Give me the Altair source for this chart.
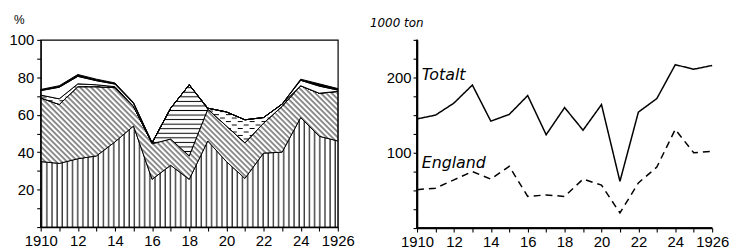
import altair as alt
import pandas as pd
from altair.utils import html as alt_html

# ---------------- data ----------------
years = list(range(1910, 1927))

# left panel: shares in %, stacked bottom -> top
share_vertical   = [35, 34, 36.5, 38, 45.5, 54, 25.5, 33, 25.5, 46, 35, 26, 39.5, 40, 58.5, 48.5, 46]
share_diagonal   = [34, 31.5, 38.5, 37, 29, 10.5, 19, 14, 12.5, 17, 19, 19, 16, 24.5, 17, 23, 26.5]
share_horizontal = [0, 0, 0, 0, 0, 0, 0.5, 16.5, 38, 0, 0, 0, 0, 0, 0, 0, 0]
share_dashed     = [1.5, 3, 1.5, 1, 0.5, 0, 0, 0, 0, 0.5, 7.5, 12.3, 3, 1.2, 0, 0, 0]
share_white      = [2.4, 6.2, 4, 2.2, 1.4, 1.6, 0, 0, 0, 0, 0, 0, 0, 0, 2.9, 3.8, 0.7]
share_black      = [0.6, 0.8, 1, 0.8, 0.6, 0.4, 0, 0, 0, 0, 0, 0, 0, 0, 0.6, 1.2, 0.8]

# right panel: 1000 ton
totalt  = [145, 150, 166, 190, 142, 151, 176, 124, 160, 130, 164, 62, 154, 172, 217, 211, 216]
england = [51, 53, 64, 75, 65, 82, 42, 44, 42, 65, 57, 20, 60, 81, 131, 100, 102]

series_names = ["Totalt", "England"]
label_years  = [1910.25, 1910.25]
label_values = [203, 86]

x_tick_labels = {1910: "1910", 1912: "12", 1914: "14", 1916: "16", 1918: "18",
                 1920: "20", 1922: "22", 1924: "24", 1926: "1926"}
left_y_ticks = list(range(0, 101, 10))
left_y_labels = {20: "20", 40: "40", 60: "60", 80: "80", 100: "100"}
right_y_ticks = list(range(0, 251, 25))
right_y_labels = {100: "100", 200: "200"}
right_x_range = [1910, 1926]
right_y_range = [0, 250]

layer_names = ["vertical", "diagonal", "horizontal", "dashed", "white", "black"]
layer_values = [share_vertical, share_diagonal, share_horizontal, share_dashed, share_white, share_black]
layer_fills = ["url(#p-vert)", "url(#p-diag)", "url(#p-horz)", "url(#p-dash)", "white", "black"]

# ---------------- helpers ----------------
def label_expr(mapping):
    expr = "''"
    for k in sorted(mapping, reverse=True):
        expr = f"datum.value == {k} ? '{mapping[k]}' : ({expr})"
    return expr

FONT = "Liberation Sans"
INK = "#000000"
axis_common = dict(
    domain=True, ticks=True, domainColor=INK, tickColor=INK, tickWidth=1.1,
    domainOpacity=1, tickOpacity=1, zindex=1,
    labelColor="black", labelFont=FONT, labelFontSize=15, tickSize=4, grid=False,
    labelOverlap=False,
)

left_rows = []
for order, (name, vals) in enumerate(zip(layer_names, layer_values)):
    for y, v in zip(years, vals):
        left_rows.append({"year": y, "share": v, "layer": name, "k": order})
left_df = pd.DataFrame(left_rows)

right_rows = []
for name, vals in zip(series_names, [totalt, england]):
    for y, v in zip(years, vals):
        right_rows.append({"year": y, "value": v, "series": name})
right_df = pd.DataFrame(right_rows)
label_df = pd.DataFrame({"series": series_names, "year": label_years, "value": label_values})

x_scale = alt.Scale(domain=[1910, 1926], nice=False, zero=False)
right_y_scale = alt.Scale(domain=right_y_range, nice=False)


def x_axis(width):
    return alt.Axis(values=years, labelExpr=label_expr(x_tick_labels), title=None,
                    labelPadding=3, labelFlush=False, domainWidth=width, **axis_common)


def right_y_axis():
    return alt.Axis(values=right_y_ticks, labelExpr=label_expr(right_y_labels),
                    title="1000  ton", titleAngle=0, titleX=-48, titleY=-17, titleAlign="left",
                    titleBaseline="middle", titleFont="DejaVu Sans", titleFontSize=12,
                    titleFontStyle="italic", titleFontWeight="normal", titleColor="black",
                    labelPadding=2, domainWidth=1.6, **axis_common)


left = alt.Chart(left_df).mark_area(stroke="black", strokeWidth=1, opacity=1, interpolate="linear").encode(
    x=alt.X("year:Q", scale=x_scale, axis=x_axis(1.2)),
    y=alt.Y("share:Q", stack="zero", scale=alt.Scale(domain=[0, 100], nice=False),
            axis=alt.Axis(values=left_y_ticks, labelExpr=label_expr(left_y_labels),
                          title="%", titleAngle=0, titleX=-22, titleY=-21, titleAlign="center",
                          titleBaseline="middle", titleFont=FONT, titleFontSize=12,
                          titleFontWeight="normal", titleColor="black",
                          labelPadding=3, domainWidth=1.2, **axis_common)),
    fill=alt.Fill("layer:N", scale=alt.Scale(domain=layer_names, range=layer_fills), legend=None),
    order=alt.Order("k:Q", sort="ascending"),
).properties(width=300, height=189, view=alt.ViewBackground(stroke="black", strokeWidth=1.2))

lines = alt.Chart(right_df).mark_line(color="black", strokeWidth=1.5).encode(
    x=alt.X("year:Q", scale=x_scale, axis=x_axis(1.6)),
    y=alt.Y("value:Q", scale=right_y_scale, axis=right_y_axis()),
    strokeDash=alt.StrokeDash("series:N", scale=alt.Scale(domain=series_names, range=[[1, 0], [7, 5]]),
                              legend=None),
)

labels = alt.Chart(label_df).mark_text(font="DejaVu Sans", fontStyle="italic", fontSize=16,
                                       align="left", baseline="middle", color="black").encode(
    x=alt.X("year:Q", scale=x_scale, axis=x_axis(1.6)),
    y=alt.Y("value:Q", scale=right_y_scale, axis=right_y_axis()),
    text="series:N",
)

# axis lines of the right panel drawn through the same scales (L-shaped frame)
y_axis_line = alt.Chart(label_df).mark_rule(color="black", strokeWidth=1.6).encode(
    x=alt.datum(right_x_range[0], scale=x_scale, axis=x_axis(1.6)),
    y=alt.datum(right_y_range[0], scale=right_y_scale, axis=right_y_axis()),
    y2=alt.datum(right_y_range[1]),
)
x_axis_line = alt.Chart(label_df).mark_rule(color="black", strokeWidth=1.6).encode(
    x=alt.datum(right_x_range[0], scale=x_scale, axis=x_axis(1.6)),
    x2=alt.datum(right_x_range[1]),
    y=alt.datum(right_y_range[0], scale=right_y_scale, axis=right_y_axis()),
)

right = alt.layer(lines, labels, y_axis_line, x_axis_line).properties(width=298, height=190)

chart = alt.hconcat(left, right, spacing=80, bounds="flush").properties(
    padding={"left": 0, "top": 3, "right": 0, "bottom": 0}
).configure_view(stroke=None)

PATTERN_DEFS = """
<svg width="0" height="0" style="position:absolute;left:0;top:0" aria-hidden="true">
 <defs>
  <pattern id="p-vert" patternUnits="userSpaceOnUse" width="5.2" height="10">
   <rect width="5.2" height="10" fill="white"/>
   <line x1="1" y1="0" x2="1" y2="10" stroke="black" stroke-width="1.1"/>
  </pattern>
  <pattern id="p-diag" patternUnits="userSpaceOnUse" width="10" height="3.9" patternTransform="rotate(45)">
   <rect width="10" height="3.9" fill="white"/>
   <line x1="0" y1="1.9" x2="10" y2="1.9" stroke="black" stroke-width="0.9"/>
  </pattern>
  <pattern id="p-horz" patternUnits="userSpaceOnUse" width="10" height="4.6">
   <rect width="10" height="4.6" fill="white"/>
   <line x1="0" y1="2.3" x2="10" y2="2.3" stroke="black" stroke-width="1"/>
  </pattern>
  <pattern id="p-dash" patternUnits="userSpaceOnUse" width="12" height="7">
   <rect width="12" height="7" fill="white"/>
   <line x1="1" y1="2" x2="6" y2="2" stroke="black" stroke-width="1"/>
   <line x1="7" y1="5.5" x2="12" y2="5.5" stroke="black" stroke-width="1"/>
  </pattern>
 </defs>
</svg>
"""

_base_template = alt_html.TEMPLATES["standard"]


class PatternTemplate:
    def render(self, **kw):
        page = _base_template.render(**kw)
        if "<body>" in page:
            return page.replace("<body>", "<body>\n" + PATTERN_DEFS, 1)
        return page.replace("<div id=", PATTERN_DEFS + "<div id=", 1)


chart.save("out.html", embed_options={"renderer": "svg", "actions": False}, template=PatternTemplate())
